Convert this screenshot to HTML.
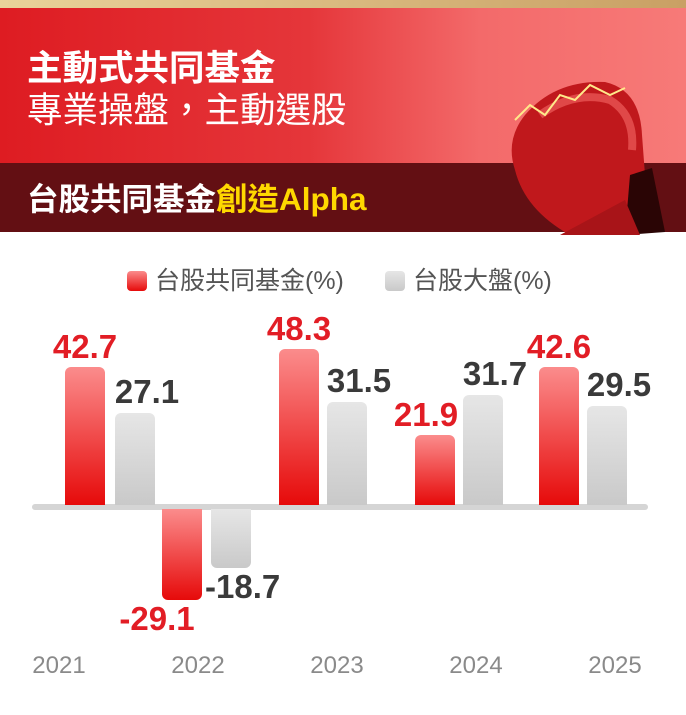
<!DOCTYPE html>
<html><head><meta charset="utf-8"><style>
*{margin:0;padding:0;box-sizing:border-box}
body{width:686px;height:715px;background:#fff;position:relative;overflow:hidden;font-family:"Liberation Sans","Noto Sans CJK TC",sans-serif}
.a{position:absolute}
.r{background:linear-gradient(#fb8c8c,#e60a0a);border-radius:6px}
.rn{background:linear-gradient(#fb8c8c,#e60a0a);border-radius:0 0 6px 6px}
.g{background:linear-gradient(#e6e6e6,#c9c9c9);border-radius:6px}
.gn{background:linear-gradient(#e6e6e6,#c9c9c9);border-radius:0 0 6px 6px}
.lr{color:#e21d25;font-weight:bold;font-size:33px;width:90px;text-align:center}
.lg{color:#3a3a3a;font-weight:bold;font-size:33px;width:90px;text-align:center}
.y{color:#8a8a8a;font-size:24px;width:90px;text-align:center;top:652px}
</style></head><body>
<div class="a" style="left:0;top:0;width:686px;height:8px;background:linear-gradient(90deg,#e9d29a,#c9a064)"></div>
<div class="a" style="left:0;top:8px;width:686px;height:155px;background:linear-gradient(90deg,#de1c22 0%,#e5363a 45%,#f36a6a 70%,#f77a78 100%)"></div>
<div class="a" style="left:0;top:163px;width:686px;height:69px;background:#630f13"></div>
<div class="a" style="left:27px;top:48px;color:#fff;font-size:35.5px;font-weight:bold;line-height:40px">主動式共同基金</div>
<div class="a" style="left:27px;top:90px;color:#fff;font-size:35.5px;line-height:40px">專業操盤，主動選股</div>
<div class="a" style="left:27px;top:180px;color:#fff;font-size:31.5px;font-weight:bold;line-height:38px">台股共同基金<span style="color:#ffd800">創造Alpha</span></div>
<svg class="a" style="left:500px;top:60px" width="186" height="175">
<path d="M15 110 Q5 80 25 55 Q55 20 105 22 Q140 30 142 75 L145 115 Q150 130 145 140 L70 175 Q25 150 15 110 Z" fill="#c0181c"/>
<path d="M40 55 Q75 30 110 40 Q135 55 132 90" fill="none" stroke="#e04848" stroke-width="8"/>
<path d="M130 115 L152 108 L165 172 L125 175 Z" fill="#2a0505"/>
<path d="M60 175 L125 140 L140 175 Z" fill="#a81418"/>
<path d="M15 60 L30 45 L45 55 L60 35 L75 40 L90 25 L110 35 L125 28" fill="none" stroke="#ffe98a" stroke-width="2"/>
</svg>
<div class="a" style="left:127px;top:271px;width:20px;height:20px;border-radius:4px;background:linear-gradient(#fb8c8c,#e60a0a)"></div>
<div class="a" style="left:155px;top:265px;font-size:25px;color:#555;line-height:32px">台股共同基金(%)</div>
<div class="a" style="left:385px;top:271px;width:20px;height:20px;border-radius:4px;background:linear-gradient(#e6e6e6,#c9c9c9)"></div>
<div class="a" style="left:413px;top:265px;font-size:25px;color:#555;line-height:32px">台股大盤(%)</div>
<div class="a" style="left:32px;top:504px;width:616px;height:6px;border-radius:3px;background:#d5d5d5"></div>
<div class="a r" style="left:65px;top:367px;width:40px;height:138px;border-radius:6px 6px 0 0"></div>
<div class="a g" style="left:115px;top:413px;width:40px;height:92px;border-radius:6px 6px 0 0"></div>
<div class="a rn" style="left:162px;top:509px;width:40px;height:91px"></div>
<div class="a gn" style="left:211px;top:509px;width:40px;height:59px"></div>
<div class="a r" style="left:279px;top:349px;width:40px;height:156px;border-radius:6px 6px 0 0"></div>
<div class="a g" style="left:327px;top:402px;width:40px;height:103px;border-radius:6px 6px 0 0"></div>
<div class="a r" style="left:415px;top:435px;width:40px;height:70px;border-radius:6px 6px 0 0"></div>
<div class="a g" style="left:463px;top:395px;width:40px;height:110px;border-radius:6px 6px 0 0"></div>
<div class="a r" style="left:539px;top:367px;width:40px;height:138px;border-radius:6px 6px 0 0"></div>
<div class="a g" style="left:587px;top:406px;width:40px;height:99px;border-radius:6px 6px 0 0"></div>
<div class="a lr" style="left:40px;top:328px">42.7</div>
<div class="a lg" style="left:102px;top:373px">27.1</div>
<div class="a lr" style="left:112px;top:600px">-29.1</div>
<div class="a lg" style="left:205px;top:568px;text-align:left">-18.7</div>
<div class="a lr" style="left:254px;top:310px">48.3</div>
<div class="a lg" style="left:314px;top:362px">31.5</div>
<div class="a lr" style="left:381px;top:396px">21.9</div>
<div class="a lg" style="left:450px;top:355px">31.7</div>
<div class="a lr" style="left:514px;top:328px">42.6</div>
<div class="a lg" style="left:574px;top:366px">29.5</div>
<div class="a y" style="left:14px">2021</div>
<div class="a y" style="left:153px">2022</div>
<div class="a y" style="left:292px">2023</div>
<div class="a y" style="left:431px">2024</div>
<div class="a y" style="left:570px">2025</div>
</body></html>
